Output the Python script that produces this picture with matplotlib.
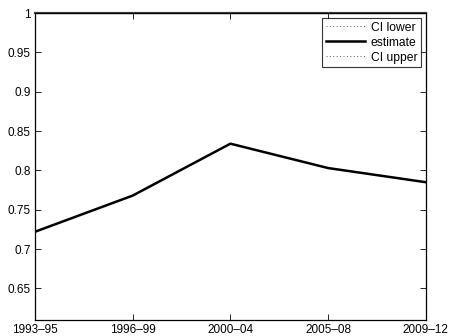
import matplotlib
matplotlib.use('Agg')
import matplotlib.pyplot as plt

periods = ['1993\u201295', '1996\u201299', '2000\u201204', '2005\u201208', '2009\u201212']
estimate = [0.722, 0.768, 0.834, 0.803, 0.785]
ci_upper = [1.0, 1.0, 1.0, 1.0, 1.0]
ci_lower = [0.60, 0.60, 0.60, 0.60, 0.60]
yticks = [0.65, 0.7, 0.75, 0.8, 0.85, 0.9, 0.95, 1]

plt.rcParams['font.family'] = ['Liberation Sans', 'DejaVu Sans']

fig = plt.figure(figsize=(4.54, 3.36), dpi=100)
ax = fig.add_axes([0.077, 0.048, 0.861, 0.913])

dots = (0, (1, 2.5))
x = range(len(periods))
ax.plot(x, ci_lower, linestyle=dots, color='#555555', lw=0.7, label='CI lower')
ax.plot(x, estimate, '-', color='black', lw=1.8, label='estimate')
ax.plot(x, ci_upper, linestyle='-', color='#444444', lw=1.6, label='CI upper', clip_on=False)

ax.set_xlim(0, 4)
ax.set_ylim(0.61, 1.0)
ax.set_xticks(list(x))
ax.set_xticklabels(periods)
ax.set_yticks(yticks)
ax.set_yticklabels(['0.65', '0.7', '0.75', '0.8', '0.85', '0.9', '0.95', '1'])

ax.tick_params(direction='in', length=4, width=0.6, top=True, right=True,
               labelsize=8.5, pad=3)
for s in ax.spines.values():
    s.set_linewidth(0.9)

leg = ax.legend(loc='upper right', fontsize=8.7, frameon=True, fancybox=False,
                borderaxespad=0.4, handlelength=3.2, handletextpad=0.5,
                borderpad=0.3, labelspacing=0.25)
leg.get_frame().set_edgecolor('black')
leg.get_frame().set_linewidth(0.8)
# legend shows the CI upper entry dotted, like CI lower
leg.get_lines()[2].set_linestyle(dots)
leg.get_lines()[2].set_linewidth(0.7)
leg.get_lines()[2].set_color('#555555')

fig.savefig('out.png', dpi=100)
